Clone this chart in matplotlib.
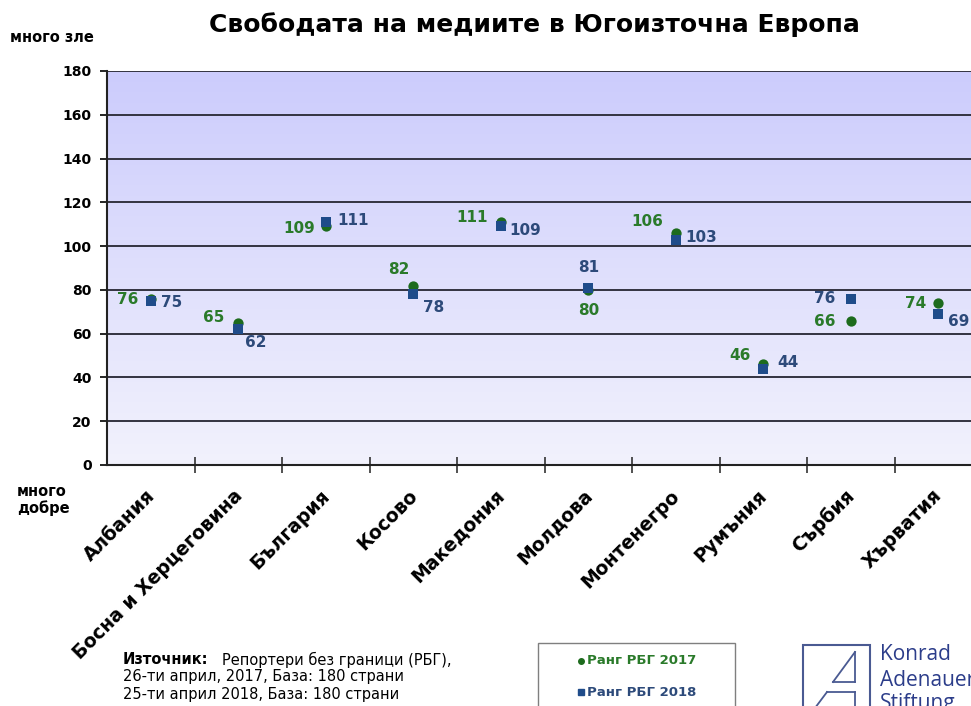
import matplotlib
matplotlib.use('Agg')
import matplotlib.pyplot as plt
import numpy as np
from matplotlib.patches import Rectangle
from matplotlib.lines import Line2D
from matplotlib.colors import LinearSegmentedColormap
import matplotlib.transforms as mtransforms

# ---------------- data ----------------
countries = ['Албания', 'Босна и Херцеговина', 'България', 'Косово', 'Македония',
             'Молдова', 'Монтенегро', 'Румъния', 'Сърбия', 'Хърватия']
rank_2017 = [76, 65, 109, 82, 111, 80, 106, 46, 66, 74]
rank_2018 = [75, 62, 111, 78, 109, 81, 103, 44, 76, 69]
y_ticks = [0, 20, 40, 60, 80, 100, 120, 140, 160, 180]
legend_labels = ['Ранг РБГ 2017', 'Ранг РБГ 2018']
title = 'Свободата на медиите в Югоизточна Европа'

# label placement (pixel offsets dx, dy and alignment) for value labels
place_2017 = [(-12, -1, 'right'), (-14, 5, 'right'), (-11, -2, 'right'), (-4, 16, 'right'),
              (-13, 5, 'right'), (0, -21, 'center'), (-13, 11, 'right'), (-13, 9, 'right'),
              (-15, -1, 'right'), (-12, 0, 'right')]
place_2018 = [(10, -2, 'left'), (7, -13, 'left'), (12, 2, 'left'), (10, -13, 'left'),
              (9, -4, 'left'), (0, 20, 'center'), (10, 2, 'left'), (14, 6, 'left'),
              (-15, 0, 'right'), (10, -8, 'left')]

GREEN = '#1d6b1d'
GREEN_TXT = '#2a7a2a'
BLUE = '#1f4c8a'
BLUE_TXT = '#2d4a7a'

W, H = 971, 706
fig = plt.figure(figsize=(W / 100, H / 100), dpi=100)
fig.patch.set_facecolor('white')


def px(x, y):
    return (x / W, 1 - y / H)


ax = fig.add_axes([107 / W, 1 - 465 / H, 875 / W, 394 / H])

# gradient background
cmap = LinearSegmentedColormap.from_list('bg', ['#f2f2fd', '#ccccfc'])
grad = np.linspace(0, 1, 256).reshape(-1, 1)
ax.imshow(grad, extent=[-0.5, 9.5, 0, 180], origin='lower', aspect='auto',
          cmap=cmap, zorder=0, interpolation='bicubic')

ax.set_xlim(-0.5, 9.5)
ax.set_ylim(0, 180)

# grid lines
for yv in y_ticks[1:]:
    ax.axhline(yv, color='#333340', lw=1.4, zorder=1)

x = np.arange(len(countries))
ax.scatter(x, rank_2017, marker='o', s=55, color=GREEN, zorder=3, linewidths=0)
ax.scatter(x, rank_2018, marker='s', s=55, color=BLUE, zorder=4, linewidths=0)

for i in range(len(countries)):
    dx, dy, ha = place_2017[i]
    ax.annotate(str(rank_2017[i]), (x[i], rank_2017[i]), xytext=(dx, dy),
                textcoords='offset pixels', ha=ha, va='center', color=GREEN_TXT,
                fontsize=11, fontweight='bold', zorder=5)
    dx, dy, ha = place_2018[i]
    ax.annotate(str(rank_2018[i]), (x[i], rank_2018[i]), xytext=(dx, dy),
                textcoords='offset pixels', ha=ha, va='center', color=BLUE_TXT,
                fontsize=11, fontweight='bold', zorder=5)

# spines
for s in ['top', 'right']:
    ax.spines[s].set_visible(False)
for s in ['left', 'bottom']:
    ax.spines[s].set_color('#222222')
    ax.spines[s].set_linewidth(1.5)
    ax.spines[s].set_zorder(6)

ax.set_yticks(y_ticks)
ax.set_yticklabels([str(v) for v in y_ticks], fontsize=10, fontweight='bold')
ax.tick_params(axis='y', direction='out', length=5, width=1.2, pad=6)

ax.set_xticks(x)
ax.set_xticklabels(countries, rotation=45, ha='right', va='center',
                   rotation_mode='anchor', fontsize=13.5, fontweight='bold')
ax.tick_params(axis='x', which='major', length=0, pad=20)
ax.set_xticks(np.arange(0.5, 9.5, 1.0), minor=True)
ax.tick_params(axis='x', which='minor', direction='inout', length=12, width=1.2,
               color='#333333')
shift = mtransforms.ScaledTranslation(1 / 100, 0, fig.dpi_scale_trans)
for lab in ax.get_xticklabels():
    lab.set_transform(lab.get_transform() + shift)

# texts
fig.text(*px(534, 25), title, ha='center', va='center', fontsize=18, fontweight='bold')
fig.text(*px(10, 37), 'много зле', ha='left', va='center', fontsize=10.5, fontweight='bold')
fig.text(*px(17, 500), 'много\nдобре', ha='left', va='center', fontsize=10.5,
         fontweight='bold', linespacing=1.1)

fig.text(*px(123, 660), 'Източник:', ha='left', va='center', fontsize=10.5,
         fontweight='bold')
fig.text(*px(222, 660), 'Репортери без граници (РБГ),', ha='left', va='center',
         fontsize=10.5)
fig.text(*px(123, 677), '26-ти април, 2017, База: 180 страни', ha='left', va='center',
         fontsize=10.5)
fig.text(*px(123, 694), '25-ти април 2018, База: 180 страни', ha='left', va='center',
         fontsize=10.5)

# legend box
lx0, ly0 = px(538, 643)
fig.add_artist(Rectangle((lx0, -0.05), 197 / W, ly0 + 0.05, transform=fig.transFigure,
                         facecolor='white', edgecolor='#7f7f7f', lw=1))
fig.add_artist(Line2D([px(581, 0)[0]], [px(0, 661)[1]], marker='o', ms=4, color=GREEN,
                      transform=fig.transFigure, lw=0))
fig.text(*px(587, 661), legend_labels[0], ha='left', va='center', fontsize=9.5,
         fontweight='bold', color=GREEN_TXT)
fig.add_artist(Line2D([px(581, 0)[0]], [px(0, 692)[1]], marker='s', ms=5, color=BLUE,
                      transform=fig.transFigure, lw=0))
fig.text(*px(587, 692), legend_labels[1], ha='left', va='center', fontsize=9.5,
         fontweight='bold', color=BLUE_TXT)

# logo
LOGO = '#4a5a92'
bx0, by0 = px(803, 645)
fig.add_artist(Rectangle((bx0, -0.05), 67 / W, by0 + 0.05, transform=fig.transFigure,
                         facecolor='none', edgecolor=LOGO, lw=1.5))
segs = [[(855, 652), (855, 682)], [(855, 652), (833, 682)], [(833, 682), (855, 682)],
        [(827, 692), (855, 692)], [(855, 692), (855, 715)], [(827, 692), (812, 712)]]
for (a, b) in segs:
    pa, pb = px(*a), px(*b)
    fig.add_artist(Line2D([pa[0], pb[0]], [pa[1], pb[1]], color=LOGO, lw=1.3,
                          transform=fig.transFigure))
for txt, yy in [('Konrad', 655), ('Adenauer', 680), ('Stiftung', 704)]:
    fig.text(*px(880, yy), txt, ha='left', va='center', fontsize=15,
             family='Open Sans', color='#2c3d8a')

fig.savefig('out.png', dpi=100)
